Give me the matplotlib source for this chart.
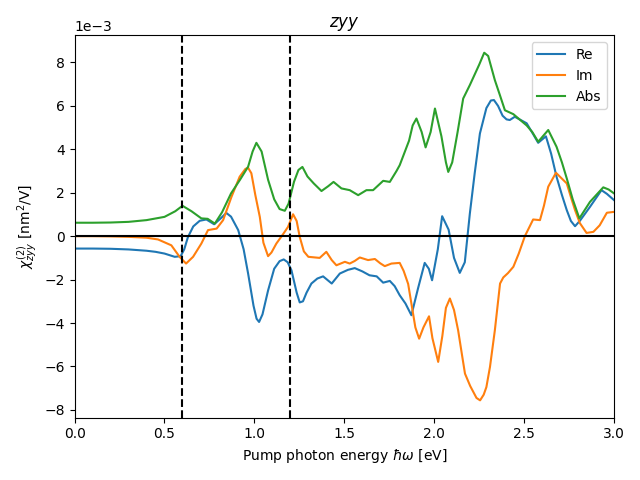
import matplotlib

matplotlib.use("Agg")
import matplotlib.pyplot as plt
import numpy as np

# values, in units of 1e-3 nm^2/V
re_x = [0.0, 0.1, 0.2, 0.3, 0.4, 0.45, 0.5, 0.557, 0.59, 0.61, 0.63, 0.66, 0.696,
        0.733, 0.776, 0.81, 0.844, 0.87, 0.91, 0.94, 0.965, 0.995, 1.012, 1.026,
        1.045, 1.076, 1.11, 1.14, 1.163, 1.185, 1.206, 1.235, 1.252, 1.27, 1.29,
        1.317, 1.35, 1.382, 1.43, 1.475, 1.52, 1.558, 1.6, 1.64, 1.68, 1.716,
        1.753, 1.78, 1.808, 1.84, 1.873, 1.91, 1.947, 1.97, 1.988, 2.02, 2.044,
        2.08, 2.11, 2.142, 2.17, 2.198, 2.225, 2.254, 2.29, 2.315, 2.332, 2.355,
        2.38, 2.402, 2.42, 2.448, 2.514, 2.55, 2.578, 2.621, 2.65, 2.68, 2.71,
        2.737, 2.76, 2.783, 2.81, 2.866, 2.93, 2.96, 3.0]
re_y = [-0.57, -0.57, -0.58, -0.61, -0.67, -0.72, -0.8, -0.95, -0.92, -0.6,
        -0.05, 0.45, 0.71, 0.77, 0.55, 0.8, 1.07, 0.9, 0.28, -0.6, -1.72, -3.2,
        -3.8, -3.95, -3.6, -2.5, -1.5, -1.15, -1.07, -1.2, -1.57, -2.6, -3.05,
        -3.0, -2.6, -2.18, -1.95, -1.85, -2.18, -1.72, -1.55, -1.47, -1.62,
        -1.8, -1.85, -2.14, -2.06, -2.3, -2.72, -3.1, -3.64, -2.4, -1.23, -1.5,
        -2.03, -0.6, 0.92, 0.3, -1.0, -1.69, -1.2, 1.04, 2.9, 4.73, 5.9, 6.25,
        6.27, 6.0, 5.55, 5.38, 5.35, 5.5, 5.2, 4.7, 4.3, 4.6, 3.8, 2.74, 1.9,
        1.2, 0.7, 0.46, 0.71, 1.35, 2.12, 1.95, 1.66]

im_x = [0.0, 0.1, 0.2, 0.3, 0.4, 0.464, 0.538, 0.584, 0.62, 0.659, 0.705, 0.742,
        0.79, 0.826, 0.872, 0.918, 0.95, 0.965, 0.983, 1.005, 1.03, 1.05, 1.076,
        1.095, 1.122, 1.16, 1.187, 1.215, 1.235, 1.252, 1.275, 1.3, 1.363, 1.4,
        1.43, 1.456, 1.503, 1.53, 1.558, 1.586, 1.632, 1.67, 1.7, 1.725, 1.762,
        1.808, 1.83, 1.855, 1.873, 1.895, 1.916, 1.94, 1.971, 1.99, 2.022,
        2.045, 2.065, 2.087, 2.11, 2.133, 2.155, 2.171, 2.2, 2.235, 2.255, 2.275,
        2.29, 2.31, 2.337, 2.366, 2.384, 2.41, 2.44, 2.47, 2.504, 2.55, 2.588,
        2.61, 2.634, 2.677, 2.737, 2.76, 2.783, 2.81, 2.847, 2.885, 2.92, 2.96,
        3.0]
im_y = [0.0, 0.0, -0.01, -0.03, -0.07, -0.15, -0.42, -0.95, -1.26, -0.95, -0.34,
        0.28, 0.35, 0.74, 1.8, 2.74, 3.1, 3.15, 2.9, 1.9, 0.89, -0.3, -0.92,
        -0.75, -0.34, 0.1, 0.43, 1.01, 0.7, -0.03, -0.7, -0.95, -1.0, -0.72,
        -1.1, -1.34, -1.18, -1.26, -1.14, -0.98, -1.1, -1.05, -1.25, -1.38,
        -1.26, -1.23, -1.6, -2.2, -3.1, -4.2, -4.72, -4.2, -3.69, -4.7, -5.79,
        -4.6, -3.3, -2.87, -3.4, -4.34, -5.5, -6.33, -6.9, -7.45, -7.56, -7.3,
        -6.95, -6.02, -4.34, -2.18, -1.9, -1.7, -1.41, -0.8, 0.0, 0.77, 0.74,
        1.4, 2.28, 2.92, 2.43, 1.8, 1.2, 0.6, 0.15, 0.2, 0.5, 1.08, 1.12]

abs_x = [0.0, 0.1, 0.2, 0.3, 0.4, 0.5, 0.56, 0.6, 0.65, 0.705, 0.74, 0.78, 0.82,
         0.87, 0.92, 0.965, 0.99, 1.011, 1.04, 1.076, 1.11, 1.14, 1.169, 1.19,
         1.22, 1.245, 1.267, 1.295, 1.33, 1.373, 1.41, 1.44, 1.484, 1.53, 1.577,
         1.623, 1.66, 1.716, 1.753, 1.79, 1.808, 1.86, 1.88, 1.901, 1.93, 1.952,
         1.98, 2.004, 2.04, 2.065, 2.078, 2.1, 2.13, 2.161, 2.198, 2.25, 2.278,
         2.3, 2.337, 2.365, 2.393, 2.44, 2.514, 2.545, 2.578, 2.634, 2.68, 2.71,
         2.737, 2.77, 2.807, 2.866, 2.94, 2.97, 3.0]
abs_y = [0.62, 0.62, 0.63, 0.66, 0.74, 0.89, 1.15, 1.4, 1.15, 0.82, 0.8, 0.58,
         1.1, 1.97, 2.6, 3.2, 3.9, 4.3, 3.9, 2.6, 1.7, 1.25, 1.17, 1.5, 2.5,
         3.05, 3.19, 2.75, 2.43, 2.08, 2.3, 2.5, 2.2, 2.12, 1.89, 2.12, 2.12,
         2.55, 2.5, 3.0, 3.27, 4.4, 5.1, 5.42, 4.8, 4.09, 4.8, 5.88, 4.6, 3.4,
         2.96, 3.4, 4.8, 6.34, 6.96, 7.9, 8.45, 8.3, 7.19, 6.5, 5.8, 5.62, 5.1,
         4.8, 4.35, 4.89, 4.12, 3.4, 2.66, 1.7, 0.82, 1.58, 2.25, 2.15, 1.97]

gap_lines = [0.6, 1.2]

scale = 1e-3

fig, ax = plt.subplots(figsize=(6.4, 4.8), dpi=100)
ax.plot(re_x, np.array(re_y) * scale, label="Re")
ax.plot(im_x, np.array(im_y) * scale, label="Im")
ax.plot(abs_x, np.array(abs_y) * scale, label="Abs")
ax.axhline(0, color="black")
for xv in gap_lines:
    ax.axvline(xv, color="black", linestyle="--")

ax.set_xlim(0, 3)
ax.ticklabel_format(axis="y", style="sci", scilimits=(0, 0))
ax.set_xlabel(r"Pump photon energy $\hbar\omega$ [eV]")
ax.set_ylabel(r"$\chi^{(2)}_{zyy}$ [nm$^2$/V]")
ax.set_title(r"$zyy$")
ax.legend(loc="upper right")
plt.tight_layout()
fig.savefig("out.png", dpi=100)
plt.close(fig)
